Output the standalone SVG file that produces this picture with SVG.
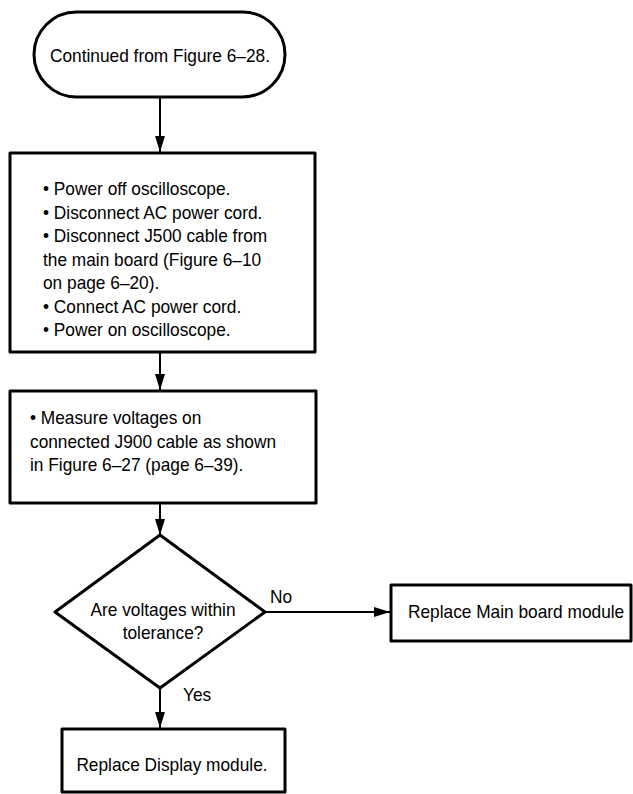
<svg xmlns="http://www.w3.org/2000/svg" width="633" height="794" viewBox="0 0 633 794">
<style>
.node{fill:#fff;stroke:#000;stroke-width:3;stroke-linejoin:round}
.edge{fill:none;stroke:#000;stroke-width:2}
text{font-family:"Liberation Sans",Arial,sans-serif;font-size:17.3px;fill:#000;transform:scaleY(1.1);transform-box:fill-box;transform-origin:center}
.c{text-anchor:middle}
</style>
<defs>
<marker id="arr" viewBox="0 0 16 10" refX="16" refY="5" markerWidth="16" markerHeight="10" markerUnits="userSpaceOnUse" orient="auto">
<path d="M0,0 L16,5 L0,10 Z" fill="#000"/>
</marker>
</defs>
<g id="connectors">
<line class="edge" x1="160" y1="97" x2="160" y2="152" marker-end="url(#arr)"/>
<line class="edge" x1="160" y1="352" x2="160" y2="390" marker-end="url(#arr)"/>
<line class="edge" x1="160" y1="503" x2="160" y2="535" marker-end="url(#arr)"/>
<line class="edge" x1="160" y1="688" x2="160" y2="728" marker-end="url(#arr)"/>
<line class="edge" x1="265" y1="612" x2="390" y2="612" marker-end="url(#arr)"/>
<text x="270" y="602">No</text>
<text x="183" y="700">Yes</text>
</g>
<g id="start">
<rect class="node" x="34" y="12" width="251" height="85" rx="42.5" ry="42.5"/>
<text class="c" x="160" y="61">Continued from Figure 6–28.</text>
</g>
<g id="step1">
<rect class="node" x="10" y="153" width="305" height="199"/>
<text x="43" y="194">• Power off oscilloscope.</text>
<text x="43" y="218">• Disconnect AC power cord.</text>
<text x="43" y="241">• Disconnect J500 cable from</text>
<text x="43" y="265">the main board (Figure 6–10</text>
<text x="43" y="288">on page 6–20).</text>
<text x="43" y="312">• Connect AC power cord.</text>
<text x="43" y="335">• Power on oscilloscope.</text>
</g>
<g id="step2">
<rect class="node" x="10" y="391" width="306" height="112"/>
<text x="30" y="423">• Measure voltages on</text>
<text x="30" y="447">connected J900 cable as shown</text>
<text x="30" y="470">in Figure 6–27 (page 6–39).</text>
</g>
<g id="decision">
<polygon class="node" points="160,535 265,612 160,688 55,612"/>
<text class="c" x="163" y="615">Are voltages within</text>
<text class="c" x="163" y="638">tolerance?</text>
</g>
<g id="mainboard">
<rect class="node" x="391" y="585" width="240" height="56"/>
<text x="408" y="617">Replace Main board module</text>
</g>
<g id="display">
<rect class="node" x="62" y="729" width="223" height="63"/>
<text class="c" x="172" y="770">Replace Display module.</text>
</g>
</svg>
